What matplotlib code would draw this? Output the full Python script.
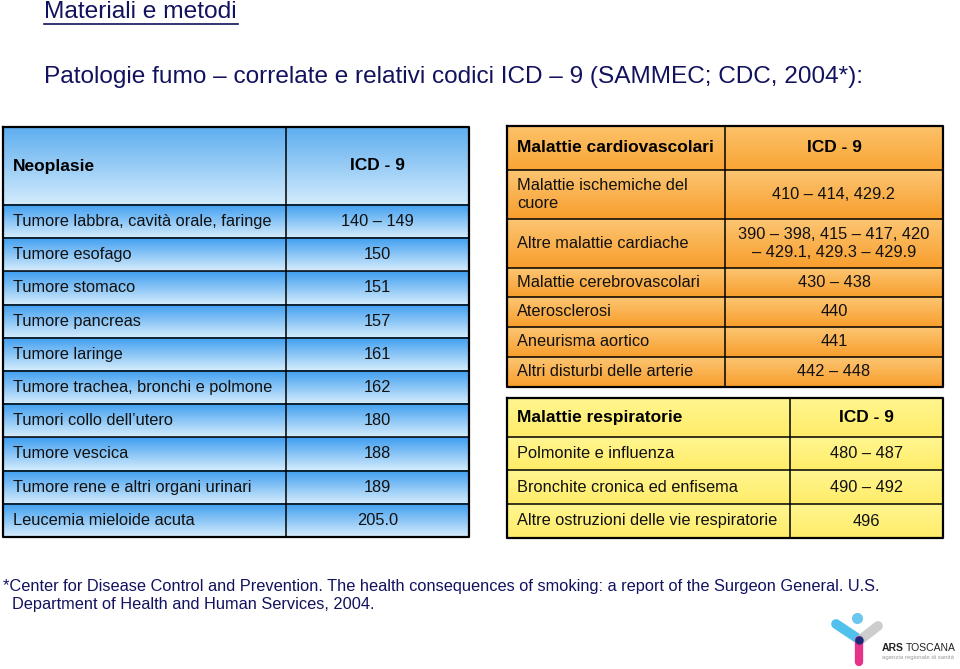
import matplotlib
matplotlib.use("Agg")
import matplotlib.pyplot as plt
import numpy as np
from matplotlib.colors import to_rgb

# ---------------- data ----------------
title = "Materiali e metodi"
subtitle = "Patologie fumo \u2013 correlate e relativi codici ICD \u2013 9 (SAMMEC; CDC, 2004*):"

neo_header = ["Neoplasie", "ICD - 9"]
neo_names = ["Tumore labbra, cavità orale, faringe", "Tumore esofago", "Tumore stomaco",
             "Tumore pancreas", "Tumore laringe", "Tumore trachea, bronchi e polmone",
             "Tumori collo dell\u2019utero", "Tumore vescica", "Tumore rene e altri organi urinari",
             "Leucemia mieloide acuta"]
neo_codes = ["140 \u2013 149", "150", "151", "157", "161", "162", "180", "188", "189", "205.0"]

cv_header = ["Malattie cardiovascolari", "ICD - 9"]
cv_names = ["Malattie ischemiche del\ncuore", "Altre malattie cardiache", "Malattie cerebrovascolari",
            "Aterosclerosi", "Aneurisma aortico", "Altri disturbi delle arterie"]
cv_codes = ["410 \u2013 414, 429.2", "390 \u2013 398, 415 \u2013 417, 420\n\u2013 429.1, 429.3 \u2013 429.9",
            "430 \u2013 438", "440", "441", "442 \u2013 448"]

resp_header = ["Malattie respiratorie", "ICD - 9"]
resp_names = ["Polmonite e influenza", "Bronchite cronica ed enfisema",
              "Altre ostruzioni delle vie respiratorie"]
resp_codes = ["480 \u2013 487", "490 \u2013 492", "496"]

footnote1 = "*Center for Disease Control and Prevention. The health consequences of smoking: a report of the Surgeon General. U.S."
footnote2 = "Department of Health and Human Services, 2004."

# ---------------- figure ----------------
W, H = 960, 669
fig = plt.figure(figsize=(9.6, 6.69), dpi=100)
ax = fig.add_axes([0, 0, 1, 1])
ax.set_xlim(0, W)
ax.set_ylim(H, 0)
ax.axis('off')
renderer = fig.canvas.get_renderer()
FONT = 'Liberation Sans'
NAVY = '#12125e'


def fit_size(s, target, weight='normal'):
    t = ax.text(0, 0, s, fontsize=10, family=FONT, weight=weight)
    w = t.get_window_extent(renderer).width
    t.remove()
    return 10 * target / w


def grad(x0, y0, x1, y1, c_top, c_bot):
    n = 64
    t = np.linspace(0, 1, n)[:, None]
    a = np.array(to_rgb(c_top))
    b = np.array(to_rgb(c_bot))
    img = (a * (1 - t) + b * t)[:, None, :]
    ax.imshow(img, extent=[x0, x1, y1, y0], origin='upper', aspect='auto',
              interpolation='bilinear', zorder=1)


def table(x0, xs, x1, ys, header, names, codes, hcols, rcols, fs, hfs, name_x, code_x):
    grad(x0, ys[0], x1, ys[1], *hcols)
    for i in range(len(names)):
        grad(x0, ys[i + 1], x1, ys[i + 2], *rcols)
    for y in ys[1:-1]:
        ax.plot([x0, x1], [y, y], color='black', lw=1.1, zorder=3)
    ax.plot([xs, xs], [ys[0], ys[-1]], color='black', lw=1.1, zorder=3)
    ax.plot([x0, x1, x1, x0, x0], [ys[0], ys[0], ys[-1], ys[-1], ys[0]],
            color='black', lw=1.6, zorder=4)
    yc = (ys[0] + ys[1]) / 2
    ax.text(name_x, yc, header[0], fontsize=hfs, weight='bold', family=FONT,
            ha='left', va='center', color='black', zorder=5)
    ax.text(code_x, yc, header[1], fontsize=hfs, weight='bold', family=FONT,
            ha='center', va='center', color='black', zorder=5)
    for i, (nm, cd) in enumerate(zip(names, codes)):
        yc = (ys[i + 1] + ys[i + 2]) / 2
        ax.text(name_x, yc, nm, fontsize=fs, family=FONT, ha='left', va='center',
                color='#111111', zorder=5, linespacing=1.2)
        ax.text(code_x, yc, cd, fontsize=fs, family=FONT, ha='center', va='center',
                color='#111111', zorder=5, linespacing=1.2)


fs_body = fit_size("Tumore labbra, cavità orale, faringe", 260)
fs_head = fit_size("Malattie cardiovascolari", 197, 'bold')

# left table (blue)
ys_neo = [127, 205] + list(np.linspace(205, 537, 11)[1:])
table(3, 286, 469, ys_neo, neo_header, neo_names, neo_codes,
      ('#5eaeef', '#d3ebfc'), ('#3e9ef0', '#d6edfc'), fs_body, fs_head, 13, 377.5)

# right top table (orange)
ys_cv = [126, 170, 219, 268, 297, 327, 357, 387]
table(507, 725, 943, ys_cv, cv_header, cv_names, cv_codes,
      ('#fcc26a', '#f9a534'), ('#fcc572', '#f89e2c'), fs_body, fs_head, 517, 834)

# right bottom table (yellow)
ys_resp = [398, 437, 470, 504, 538]
table(507, 790, 943, ys_resp, resp_header, resp_names, resp_codes,
      ('#fff690', '#ffec68'), ('#fff690', '#ffec68'), fs_body, fs_head, 517, 866.5)

# titles
fs_title = fit_size(title, 194)
ax.text(44, 12, title, fontsize=fs_title, family=FONT, color=NAVY, ha='left', va='center')
ax.plot([44, 238], [23.5, 23.5], color=NAVY, lw=1.2)
fs_sub = fit_size(subtitle, 823)
ax.text(44, 77, subtitle, fontsize=fs_sub, family=FONT, color=NAVY, ha='left', va='center')

# footnote
fs_foot = fit_size(footnote1, 877)
ax.text(3, 587, footnote1, fontsize=fs_foot, family=FONT, color=NAVY, ha='left', va='center')
ax.text(12, 604, footnote2, fontsize=fs_foot, family=FONT, color=NAVY, ha='left', va='center')

# logo (ARS Toscana)
ax.plot([836, 860], [624, 640], color='#33b5ea', lw=7, solid_capstyle='round', alpha=0.85, zorder=6)
ax.plot([878, 860], [626, 640], color='#c8c8c8', lw=7, solid_capstyle='round', alpha=0.9, zorder=6)
ax.plot([859, 859], [640, 662], color='#e6338a', lw=6, solid_capstyle='round', zorder=6)
ax.plot([859], [640], marker='o', ms=5, color='#1a2a7a', zorder=7)
ax.plot([857], [618], marker='o', ms=7, color='#6cc7ee', zorder=6)
fs_ars = fit_size("ARS TOSCANA", 74)
t_ars = ax.text(882, 648, "ARS", fontsize=fs_ars, weight='bold', family=FONT, color='#222222',
                ha='left', va='center', zorder=6)
w_ars = t_ars.get_window_extent(renderer).width
ax.text(882 + w_ars + 2, 648, "TOSCANA", fontsize=fs_ars, family=FONT, color='#222222',
        ha='left', va='center', zorder=6)
fs_sub_logo = fit_size("agenzia regionale di sanità", 72)
ax.text(882, 658, "agenzia regionale di sanità", fontsize=fs_sub_logo, family=FONT, color='#999999',
        ha='left', va='center', zorder=6)

ax.set_xlim(0, W)
ax.set_ylim(H, 0)
fig.savefig("out.png", dpi=100)
